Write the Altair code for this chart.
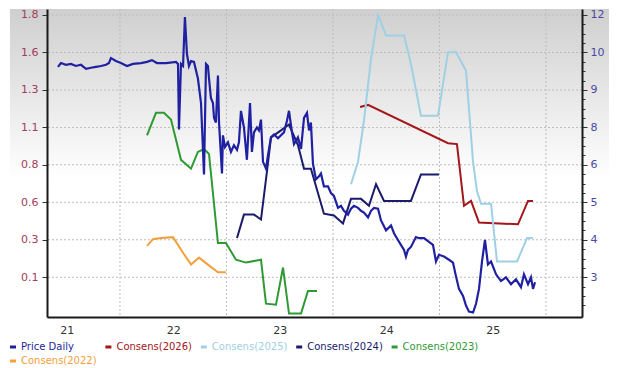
import altair as alt
import pandas as pd

# ---------------- data (decimal years) ----------------
PRICE_T = [2021.418, 2021.446, 2021.493, 2021.540, 2021.587, 2021.634, 2021.681, 2021.728, 2021.775, 2021.822,
           2021.869, 2021.897, 2021.915, 2021.962, 2022.009, 2022.066, 2022.122, 2022.197, 2022.254, 2022.300,
           2022.347, 2022.432, 2022.526, 2022.545, 2022.554, 2022.573, 2022.592, 2022.610, 2022.629, 2022.648,
           2022.667, 2022.695, 2022.732, 2022.761, 2022.789, 2022.808, 2022.826, 2022.836, 2022.854, 2022.873,
           2022.883, 2022.901, 2022.920, 2022.930, 2022.958, 2022.967, 2022.986, 2023.014, 2023.042, 2023.070,
           2023.099, 2023.117, 2023.136, 2023.164, 2023.192, 2023.221, 2023.239, 2023.258, 2023.286, 2023.305,
           2023.324, 2023.343, 2023.371, 2023.390, 2023.418, 2023.446, 2023.484, 2023.512, 2023.540, 2023.568,
           2023.587, 2023.615, 2023.634, 2023.671, 2023.700, 2023.728, 2023.756, 2023.775, 2023.793, 2023.812,
           2023.840, 2023.869, 2023.887, 2023.915, 2023.953, 2023.981, 2024.009, 2024.047, 2024.075, 2024.103,
           2024.141, 2024.169, 2024.197, 2024.235, 2024.263, 2024.291, 2024.329, 2024.357, 2024.385, 2024.423,
           2024.451, 2024.498, 2024.545, 2024.573, 2024.610, 2024.638, 2024.667, 2024.685, 2024.704, 2024.732,
           2024.779, 2024.808, 2024.855, 2024.901, 2024.939, 2024.967, 2024.995, 2025.042, 2025.089, 2025.127,
           2025.155, 2025.183, 2025.221, 2025.249, 2025.277, 2025.315, 2025.343, 2025.371, 2025.399, 2025.427,
           2025.455, 2025.484, 2025.531, 2025.577, 2025.624, 2025.671, 2025.718, 2025.765, 2025.793, 2025.831,
           2025.859, 2025.878, 2025.897]
PRICE_V = [10.22, 10.35, 10.29, 10.32, 10.25, 10.29, 10.15, 10.19, 10.22, 10.25,
           10.29, 10.35, 10.52, 10.42, 10.35, 10.25, 10.32, 10.35, 10.39, 10.45,
           10.35, 10.35, 10.39, 10.32, 8.07, 10.32, 10.25, 11.93, 10.66, 10.25,
           10.42, 10.39, 9.82, 8.98, 6.53, 10.32, 10.25, 9.82, 9.15, 8.98,
           8.47, 8.31, 9.92, 8.31, 6.56, 7.87, 7.47, 7.63, 7.30, 7.53,
           7.37, 7.63, 8.71, 8.14, 7.03, 8.98, 7.30, 7.97, 8.14, 8.04,
           8.41, 6.96, 6.73, 7.20, 7.80, 7.90, 7.77, 7.87, 7.97, 8.37,
           8.71, 7.97, 7.57, 7.80, 7.40, 8.47, 8.64, 8.04, 8.31, 6.90,
           6.36, 6.46, 6.56, 6.12, 6.12, 5.89, 5.79, 5.38, 5.45, 5.28,
           5.15, 5.35, 5.45, 5.38, 5.28, 5.22, 5.05, 5.28, 5.38, 5.35,
           4.95, 4.61, 4.78, 4.51, 4.28, 4.11, 3.94, 3.71, 3.94, 4.04,
           4.38, 4.34, 4.34, 4.21, 4.11, 3.54, 3.77, 3.71, 3.60, 3.50,
           3.03, 2.60, 2.36, 2.03, 1.82, 1.79, 2.09, 2.60, 3.54, 4.28,
           3.44, 3.54, 3.10, 2.87, 3.00, 2.76, 2.93, 2.66, 3.10, 2.76,
           3.00, 2.60, 2.83]

C2026_T = [2024.254, 2024.329, 2025.080, 2025.164, 2025.230, 2025.296, 2025.371, 2025.737, 2025.831, 2025.878]
C2026_V = [1.204, 1.217, 0.969, 0.963, 0.563, 0.595, 0.455, 0.443, 0.595, 0.595]

C2025_T = [2024.169, 2024.235, 2024.291, 2024.357, 2024.423, 2024.498, 2024.667, 2024.732, 2024.826, 2024.986,
           2025.080, 2025.155, 2025.249, 2025.315, 2025.352, 2025.390, 2025.484, 2025.540, 2025.728, 2025.822,
           2025.878]
C2025_V = [0.703, 0.849, 1.115, 1.515, 1.800, 1.667, 1.667, 1.483, 1.147, 1.147,
           1.559, 1.559, 1.439, 0.849, 0.658, 0.576, 0.576, 0.202, 0.202, 0.354,
           0.354]

C2024_T = [2023.099, 2023.164, 2023.258, 2023.324, 2023.380, 2023.418, 2023.512, 2023.587, 2023.671, 2023.728,
           2023.793, 2023.915, 2024.009, 2024.094, 2024.169, 2024.263, 2024.338, 2024.404, 2024.479, 2024.732,
           2024.826, 2024.995]
C2024_V = [0.354, 0.506, 0.506, 0.474, 0.785, 1.007, 1.052, 1.090, 0.957, 0.804,
           0.804, 0.512, 0.500, 0.449, 0.608, 0.608, 0.563, 0.703, 0.595, 0.595,
           0.766, 0.766]

C2023_T = [2022.254, 2022.338, 2022.413, 2022.479, 2022.573, 2022.667, 2022.732, 2022.789, 2022.836, 2022.920,
           2022.995, 2023.089, 2023.183, 2023.324, 2023.371, 2023.465, 2023.531, 2023.587, 2023.700, 2023.765,
           2023.850]
C2023_V = [1.020, 1.166, 1.166, 1.122, 0.861, 0.804, 0.912, 0.931, 0.899, 0.322,
           0.322, 0.214, 0.195, 0.214, -0.071, -0.078, 0.163, -0.135, -0.135, 0.011,
           0.011]

C2022_T = [2022.254, 2022.310, 2022.385, 2022.498, 2022.592, 2022.667, 2022.742, 2022.826, 2022.920, 2022.995]
C2022_V = [0.303, 0.347, 0.354, 0.360, 0.259, 0.182, 0.227, 0.182, 0.132, 0.132]

SERIES = ["Price Daily", "Consens(2026)", "Consens(2025)", "Consens(2024)", "Consens(2023)", "Consens(2022)"]
COLORS = ["#1f1f9c", "#a3161a", "#9fd0e3", "#1b1b6b", "#2f9a34", "#f2a03d"]

# axis ticks / labels
X_LABEL_POS = [2021.5, 2022.5, 2023.5, 2024.5, 2025.5]
X_LABELS = ["21", "22", "23", "24", "25"]
YEAR_BOUNDS = [2022.0, 2023.0, 2024.0, 2025.0, 2026.0]
LEFT_TICKS = [0.1, 0.343, 0.586, 0.829, 1.071, 1.314, 1.557, 1.8]
LEFT_LABELS = ["0.1", "0.3", "0.6", "0.8", "1.1", "1.3", "1.6", "1.8"]
RIGHT_TICKS = [3.0, 4.286, 5.571, 6.857, 8.143, 9.429, 10.714, 12.0]
RIGHT_LABELS = ["3", "4", "5", "6", "8", "9", "10", "12"]

# ---------------- tables ----------------
cons_rows = []
for name, ts, vs in [("Consens(2026)", C2026_T, C2026_V), ("Consens(2025)", C2025_T, C2025_V),
                     ("Consens(2024)", C2024_T, C2024_V), ("Consens(2023)", C2023_T, C2023_V),
                     ("Consens(2022)", C2022_T, C2022_V)]:
    for t, v in zip(ts, vs):
        cons_rows.append({"series": name, "t": t, "v": v})
cons_df = pd.DataFrame(cons_rows)
price_df = pd.DataFrame({"t": PRICE_T, "p": PRICE_V, "series": "Price Daily"})

# minor ticks on the right axis: three between each pair of majors, three below the lowest
right_all = []
first_step = (RIGHT_TICKS[1] - RIGHT_TICKS[0]) / 4
for k in (3, 2, 1):
    right_all.append(round(RIGHT_TICKS[0] - k * first_step, 4))
for a, b in zip(RIGHT_TICKS[:-1], RIGHT_TICKS[1:]):
    st = (b - a) / 4
    right_all.append(a)
    for k in (1, 2, 3):
        right_all.append(round(a + k * st, 4))
right_all.append(RIGHT_TICKS[-1])


def label_expr(pos, labels):
    return "indexof(%s, datum.value) >= 0 ? %s[indexof(%s, datum.value)] : ''" % (pos, labels, pos)


W, H = 535, 308
FONT = "DejaVu Sans"
x_scale = alt.Scale(domain=[2021.315, 2026.338], nice=False, zero=False)
left_scale = alt.Scale(domain=[-0.1576, 1.8386], nice=False, zero=False)
right_scale = alt.Scale(domain=[1.636, 12.2045], nice=False, zero=False)
color_scale = alt.Scale(domain=SERIES, range=COLORS)

x_axis = alt.Axis(values=X_LABEL_POS, labelExpr=label_expr(X_LABEL_POS, X_LABELS), ticks=False, grid=False,
                  domainColor="#1a1a1a", domainWidth=2, labelColor="#333333", labelFontSize=11,
                  labelFont=FONT, labelPadding=7, title=None, zindex=1)
left_axis = alt.Axis(values=LEFT_TICKS, labelExpr=label_expr(LEFT_TICKS, LEFT_LABELS), grid=False,
                     tickSize=5, tickColor="#333333", domainColor="#1a1a1a", domainWidth=2,
                     labelColor="#a0405a", labelFontSize=11, labelFont=FONT, labelPadding=4,
                     minExtent=38, maxExtent=38, title=None, zindex=1, orient="left")
right_axis = alt.Axis(values=right_all, labelExpr=label_expr(RIGHT_TICKS, RIGHT_LABELS), grid=False,
                      tickSize={"condition": {"test": "indexof(%s, datum.value) >= 0" % RIGHT_TICKS, "value": 5},
                                "value": 3},
                      tickColor="#333333", domainColor="#1a1a1a", domainWidth=2,
                      labelColor="#4a4aa0", labelFontSize=11, labelFont=FONT, labelPadding=3,
                      minExtent=28, maxExtent=28, title=None, zindex=1, orient="right")

bg = alt.Chart(alt.Data(values=[{"a": 1}])).mark_rect(
    fill=alt.Gradient(gradient="linear", x1=0, y1=0, x2=0, y2=1,
                      stops=[alt.GradientStop(color="#cfcfcf", offset=0),
                             alt.GradientStop(color="#ffffff", offset=1)])
).encode(x=alt.value(-37), x2=alt.value(W + 27), y=alt.value(0), y2=alt.value(170))

hgrid = alt.Chart(pd.DataFrame({"v": LEFT_TICKS})).mark_rule(
    color="#bdbdbd", strokeDash=[2, 2], strokeWidth=1
).encode(y=alt.Y("v:Q", scale=left_scale, axis=left_axis))
vgrid = alt.Chart(pd.DataFrame({"t": YEAR_BOUNDS})).mark_rule(
    color="#bdbdbd", strokeDash=[2, 2], strokeWidth=1
).encode(x=alt.X("t:Q", scale=x_scale, axis=x_axis))

cons = alt.Chart(cons_df).mark_line(strokeWidth=2).encode(
    x=alt.X("t:Q", scale=x_scale, axis=x_axis),
    y=alt.Y("v:Q", scale=left_scale, axis=left_axis),
    color=alt.Color("series:N", scale=color_scale, legend=None),
    detail="series:N",
)
left_group = alt.layer(hgrid, vgrid, cons)

price = alt.Chart(price_df).mark_line(strokeWidth=2.2, color="#2020a2").encode(
    x=alt.X("t:Q", scale=x_scale, axis=x_axis),
    y=alt.Y("p:Q", scale=right_scale, axis=right_axis),
)

main = alt.layer(bg, left_group, price).resolve_scale(y="independent").properties(width=W, height=H)

leg_df = pd.DataFrame({"series": SERIES,
                       "col": [i % 5 for i in range(len(SERIES))],
                       "row": [i // 5 for i in range(len(SERIES))]})
leg_x = alt.Scale(domain=[0, 5], range=[-34, 443])
leg_base = alt.Chart(leg_df).encode(
    x=alt.X("col:Q", scale=leg_x, axis=None),
    y=alt.Y("row:Q", scale=alt.Scale(domain=[0, 1], range=[11, 25]), axis=None),
    color=alt.Color("series:N", scale=color_scale, legend=None),
)
leg_sym = leg_base.mark_rule(strokeWidth=3, xOffset=-3, x2Offset=3).encode(x2="col:Q")
leg_txt = leg_base.mark_text(align="left", dx=8, fontSize=10, font=FONT).encode(text="series:N")
legend = alt.layer(leg_sym, leg_txt).properties(width=W, height=28, view=alt.ViewBackground(stroke=None))

chart = alt.vconcat(main, legend, spacing=0).properties(
    padding={"left": 0, "top": 0, "right": 0, "bottom": 0}, background="white"
).configure_view(stroke=None).configure(font=FONT)

chart.save("out.html", embed_options={"renderer": "svg", "actions": False})
